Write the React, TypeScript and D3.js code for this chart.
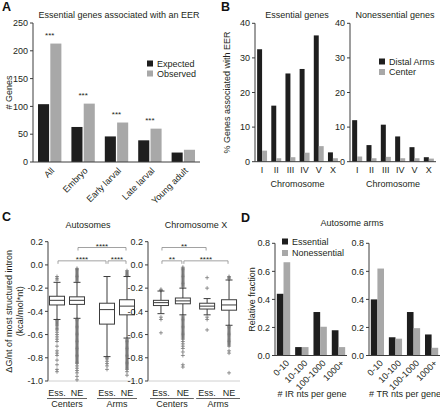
import * as d3 from "d3"

const FONT = "'Liberation Sans', Arial, Helvetica, sans-serif"
const INK = "#231f20"
const AXIS = "#3c3c3c"
const BLACK = "#1e1e1e"
const GREY = "#a8a8a8"

// A: essential genes associated with an EER, by lethal stage
const stages = ["All", "Embryo", "Early larval", "Late larval", "Young adult"]
const expectedGenes = [104, 63, 46, 39, 17]
const observedGenes = [213, 105, 71, 60, 22]
const stageStars = ["***", "***", "***", "***", ""]
const geneTicks = [0, 50, 100, 150, 200, 250]

// B: % genes associated with EER per chromosome
const chromosomes = ["I", "II", "III", "IV", "V", "X"]
const essentialArms = [32.5, 16.2, 25.5, 26.8, 36.5, 2.7]
const essentialCenter = [3.2, 1.0, 1.3, 2.6, 4.5, 1.0]
const nonessentialArms = [12.0, 4.8, 10.7, 7.3, 4.2, 1.3]
const nonessentialCenter = [1.5, 1.0, 1.4, 1.0, 1.0, 0.9]
const percentTicks = [0, 10, 20, 30, 40]

// C: ΔG/nt box plots, order = Centers Ess., Centers NE, Arms Ess., Arms NE
const regions = ["Centers", "Arms"]
const geneClasses = ["Ess.", "NE"]
const dgTicks = [0.2, 0.0, -0.2, -0.4, -0.6, -0.8, -1.0]

const autoHigh = [-0.15, -0.15, -0.1, -0.1]
const autoQ3 = [-0.27, -0.275, -0.33, -0.3]
const autoMedian = [-0.305, -0.305, -0.385, -0.355]
const autoQ1 = [-0.345, -0.34, -0.51, -0.43]
const autoLow = [-0.47, -0.46, -0.79, -0.63]
const autoOutliers = [
  [-0.1, -0.115, -0.13, -0.48, -0.49, -0.5, -0.51, -0.52, -0.535, -0.55, -0.56, -0.58, -0.6, -0.62, -0.64,
    -0.66, -0.7, -0.74, -0.76, -0.78, -0.82, -0.86, -0.9, -0.92],
  [-0.03, -0.04, -0.05, -0.06, -0.07, -0.08, -0.09, -0.1, -0.11, -0.12, -0.13, -0.14,
    -0.47, -0.48, -0.49, -0.5, -0.51, -0.52, -0.53, -0.54, -0.55, -0.56, -0.57, -0.58, -0.59, -0.6,
    -0.61, -0.62, -0.63, -0.64, -0.65, -0.66, -0.67, -0.68, -0.69, -0.7, -0.71, -0.72, -0.73, -0.74,
    -0.75, -0.76, -0.77, -0.78, -0.79, -0.8, -0.81, -0.82, -0.83, -0.84, -0.85, -0.87, -0.89, -0.91,
    -0.93, -0.96, -0.99],
  [-0.8, -0.81, -0.83, -0.85, -0.87, -0.9],
  [-0.05, -0.06, -0.07, -0.08, -0.09,
    -0.64, -0.65, -0.66, -0.67, -0.68, -0.69, -0.7, -0.71, -0.72, -0.73, -0.74, -0.75, -0.76, -0.77,
    -0.78, -0.79, -0.8, -0.81, -0.82, -0.83, -0.84, -0.85, -0.86, -0.87, -0.88, -0.89, -0.9, -0.92, -0.95],
]
const autoBrackets = [
  { from: 0, to: 2, tier: 0, label: "****" },
  { from: 2, to: 3, tier: 0, label: "****" },
  { from: 1, to: 3, tier: 1, label: "****" },
]

const xHigh = [-0.225, -0.2, -0.29, -0.13]
const xQ3 = [-0.305, -0.285, -0.33, -0.3]
const xMedian = [-0.325, -0.31, -0.355, -0.345]
const xQ1 = [-0.35, -0.335, -0.38, -0.39]
const xLow = [-0.42, -0.43, -0.43, -0.52]
const xOutliers = [
  [-0.21, -0.22, -0.45, -0.47, -0.585],
  [-0.02, -0.03, -0.04, -0.05, -0.06, -0.07, -0.08, -0.09, -0.1, -0.11, -0.12, -0.13, -0.14, -0.15,
    -0.16, -0.17, -0.18, -0.19,
    -0.44, -0.45, -0.46, -0.47, -0.48, -0.49, -0.5, -0.51, -0.52, -0.53, -0.54, -0.55, -0.56, -0.57,
    -0.58, -0.59, -0.6, -0.61, -0.62, -0.63, -0.64, -0.66, -0.68, -0.7, -0.72, -0.75, -0.78, -0.86, -0.88],
  [-0.11, -0.2, -0.45, -0.47, -0.56],
  [-0.1, -0.11, -0.12,
    -0.53, -0.54, -0.55, -0.56, -0.57, -0.58, -0.59, -0.6, -0.61, -0.62, -0.63, -0.64, -0.65, -0.66,
    -0.67, -0.68, -0.69, -0.7, -0.74, -0.76, -0.93],
]
const xBrackets = [
  { from: 0, to: 1, tier: 0, label: "**" },
  { from: 1, to: 3, tier: 0, label: "****" },
  { from: 0, to: 2, tier: 1, label: "**" },
]

// D: relative fraction of genes by repeat nts in autosome arms
const bins = ["0-10", "10-100", "100-1000", "1000+"]
const irEssential = [0.44, 0.06, 0.31, 0.18]
const irNonessential = [0.665, 0.06, 0.205, 0.06]
const trEssential = [0.4, 0.13, 0.31, 0.15]
const trNonessential = [0.62, 0.12, 0.195, 0.055]
const fractionTicks = [0, 0.2, 0.4, 0.6, 0.8]

type Lin = d3.ScaleLinear<number, number>

function YAxis({ x, y, ticks, fmt }: { x: number; y: Lin; ticks: number[]; fmt: (v: number) => string }) {
  const [lo, hi] = d3.extent(ticks) as [number, number]
  return (
    <g>
      <line x1={x} x2={x} y1={y(hi)} y2={y(lo)} stroke={AXIS} />
      {ticks.map((t) => (
        <g key={t}>
          <line x1={x - 3} x2={x} y1={y(t)} y2={y(t)} stroke={AXIS} />
          <text x={x - 5} y={y(t)} dy="0.35em" textAnchor="end" fontSize={9} fill={INK}>
            {fmt(t)}
          </text>
        </g>
      ))}
    </g>
  )
}

function GroupedBars({ cats, series, colors, x0, y, padding }: {
  cats: string[]; series: number[][]; colors: string[]
  x0: d3.ScaleBand<string>; y: Lin; padding: number
}) {
  const x1 = d3.scaleBand<number>().domain(series.map((_, i) => i)).range([0, x0.bandwidth()]).paddingInner(padding)
  return (
    <g>
      {cats.map((c, ci) =>
        series.map((s, si) => (
          <rect key={c + si} x={(x0(c) ?? 0) + (x1(si) ?? 0)} y={y(s[ci])} width={x1.bandwidth()}
            height={y(0) - y(s[ci])} fill={colors[si]} />
        ))
      )}
    </g>
  )
}

function Legend({ x, y, labels, colors, gap }: { x: number; y: number; labels: string[]; colors: string[]; gap: number }) {
  return (
    <g>
      {labels.map((l, i) => (
        <g key={l}>
          <rect x={x} y={y + i * gap - 3} width={6} height={6} fill={colors[i]} />
          <text x={x + 10} y={y + i * gap} dy="0.35em" fontSize={9} fill={INK}>{l}</text>
        </g>
      ))}
    </g>
  )
}

function BoxPanel({ axisX, x, y, high, q3, median, q1, low, outliers, brackets }: {
  axisX: number; x: d3.ScaleBand<string>; y: Lin
  high: number[]; q3: number[]; median: number[]; q1: number[]; low: number[]
  outliers: number[][]; brackets: { from: number; to: number; tier: number; label: string }[]
}) {
  const inner = d3.scaleBand<string>().domain(geneClasses).range([0, x.bandwidth()])
  const centers = regions.flatMap((r) => geneClasses.map((g) => (x(r) ?? 0) + (inner(g) ?? 0) + inner.bandwidth() / 2))
  const bw = 15
  const tierY = [y(0.035), y(0.15)]
  const right = (x.range()[1] as number)
  return (
    <g>
      <YAxis x={axisX} y={y} ticks={dgTicks} fmt={(v) => v.toFixed(1)} />
      <line x1={axisX} x2={right} y1={y(-1)} y2={y(-1)} stroke="#c4c4c4" strokeWidth={0.8} />
      {centers.map((cx, i) => (
        <g key={i}>
          {outliers[i].map((v, k) => (
            <path key={k} d={`M${cx - 2},${y(v)}h4M${cx},${y(v) - 2}v4`} stroke="#6a6a6a" strokeWidth={0.7} />
          ))}
          <line x1={cx} x2={cx} y1={y(high[i])} y2={y(q3[i])} stroke={AXIS} />
          <line x1={cx} x2={cx} y1={y(q1[i])} y2={y(low[i])} stroke={AXIS} />
          <line x1={cx - 3.5} x2={cx + 3.5} y1={y(high[i])} y2={y(high[i])} stroke={AXIS} />
          <line x1={cx - 3.5} x2={cx + 3.5} y1={y(low[i])} y2={y(low[i])} stroke={AXIS} />
          <rect x={cx - bw / 2} y={y(q3[i])} width={bw} height={y(q1[i]) - y(q3[i])} fill="#fff" stroke={AXIS} />
          <line x1={cx - bw / 2} x2={cx + bw / 2} y1={y(median[i])} y2={y(median[i])} stroke={AXIS} />
          <text x={cx} y={396} textAnchor="middle" fontSize={9} fill={INK}>{geneClasses[i % 2]}</text>
        </g>
      ))}
      {brackets.map((b, i) => {
        const by = tierY[b.tier]
        const x1 = centers[b.from] + 1
        const x2 = centers[b.to] - 1
        return (
          <g key={i}>
            <path d={`M${x1},${by + 3}V${by}H${x2}V${by + 3}`} fill="none" stroke="#8a8a8a" strokeWidth={0.8} />
            <text x={(x1 + x2) / 2} y={by + 1.5} textAnchor="middle" fontSize={8} fill={INK}>{b.label}</text>
          </g>
        )
      })}
      {regions.map((r) => {
        const rx = x(r) ?? 0
        return (
          <g key={r}>
            <line x1={rx} x2={rx + x.bandwidth()} y1={398.5} y2={398.5} stroke={AXIS} strokeWidth={0.8} />
            <text x={rx + x.bandwidth() / 2} y={406.5} textAnchor="middle" fontSize={9} fill={INK}>{r}</text>
          </g>
        )
      })}
    </g>
  )
}

export default function App() {
  // ---- A
  const yA = d3.scaleLinear().domain([0, 250]).range([162, 23])
  const xA = d3.scaleBand<string>().domain(stages).range([33, 200]).paddingInner(0.3).paddingOuter(0.15)

  // ---- B
  const yB = d3.scaleLinear().domain([0, 40]).range([161.7, 23.3])
  const xBL = d3.scaleBand<string>().domain(chromosomes).range([255, 340]).paddingInner(0.3).paddingOuter(0.15)
  const xBR = d3.scaleBand<string>().domain(chromosomes).range([350, 436]).paddingInner(0.3).paddingOuter(0.15)

  // ---- C
  const yC = d3.scaleLinear().domain([-1, 0.2]).range([381, 241.7])
  const xCL = d3.scaleBand<string>().domain(regions).range([47, 137]).paddingInner(0.2)
  const xCR = d3.scaleBand<string>().domain(regions).range([150, 240]).paddingInner(0.05)

  // ---- D
  const yD = d3.scaleLinear().domain([0, 0.8]).range([355.5, 243.3])
  const xDL = d3.scaleBand<string>().domain(bins).range([275, 347]).paddingInner(0.27).paddingOuter(0.1)
  const xDR = d3.scaleBand<string>().domain(bins).range([369, 440]).paddingInner(0.27).paddingOuter(0.1)

  const mid = (s: d3.ScaleBand<string>, c: string) => (s(c) ?? 0) + s.bandwidth() / 2

  return (
    <svg width={440} height={409} style={{ position: "absolute", left: 0, top: 0, background: "#fff" }}
      fontFamily={FONT}>
      {/* panel letters */}
      {[["A", 2, 10.5], ["B", 221, 10.5], ["C", 2, 220.5], ["D", 241, 221.5]].map(([l, x, y]) => (
        <text key={l as string} x={x as number} y={y as number} fontSize={12.5} fontWeight="bold" fill="#111">{l}</text>
      ))}

      {/* ---------- A ---------- */}
      <text x={119} y={18} textAnchor="middle" fontSize={9} fill={INK}>Essential genes associated with an EER</text>
      <YAxis x={33} y={yA} ticks={geneTicks} fmt={(v) => String(v)} />
      <text transform={`translate(12,${yA(125)}) rotate(-90)`} textAnchor="middle" fontSize={9} fill={INK}># Genes</text>
      <GroupedBars cats={stages} series={[expectedGenes, observedGenes]} colors={[BLACK, GREY]} x0={xA} y={yA} padding={0.1} />
      <line x1={33} x2={200} y1={yA(0)} y2={yA(0)} stroke={AXIS} />
      {stages.map((s, i) => (
        <g key={s}>
          <text x={mid(xA, s)} y={yA(Math.max(expectedGenes[i], observedGenes[i])) - 6} textAnchor="middle"
            fontSize={8} fill={INK}>{stageStars[i]}</text>
          <text transform={`translate(${mid(xA, s) + 3},${yA(0) + 7}) rotate(-45)`} textAnchor="end" dy="0.35em"
            fontSize={9} fill={INK}>{s}</text>
        </g>
      ))}
      <Legend x={147} y={63.5} labels={["Expected", "Observed"]} colors={[BLACK, GREY]} gap={10} />

      {/* ---------- B ---------- */}
      <text x={297} y={18} textAnchor="middle" fontSize={9} fill={INK}>Essential genes</text>
      <text x={395} y={18} textAnchor="middle" fontSize={9} fill={INK}>Nonessential genes</text>
      <YAxis x={255} y={yB} ticks={percentTicks} fmt={(v) => String(v)} />
      <YAxis x={350} y={yB} ticks={percentTicks} fmt={(v) => String(v)} />
      <text transform={`translate(230,${yB(20)}) rotate(-90)`} textAnchor="middle" fontSize={9} fill={INK}>
        % Genes associated with EER
      </text>
      <GroupedBars cats={chromosomes} series={[essentialArms, essentialCenter]} colors={[BLACK, GREY]} x0={xBL} y={yB} padding={0} />
      <GroupedBars cats={chromosomes} series={[nonessentialArms, nonessentialCenter]} colors={[BLACK, GREY]} x0={xBR} y={yB} padding={0} />
      <line x1={255} x2={340} y1={yB(0)} y2={yB(0)} stroke={AXIS} />
      <line x1={350} x2={436} y1={yB(0)} y2={yB(0)} stroke={AXIS} />
      {[xBL, xBR].map((sc, k) => (
        <g key={k}>
          {chromosomes.map((c) => (
            <text key={c} x={mid(sc, c)} y={173} textAnchor="middle" fontSize={9} fill={INK}>{c}</text>
          ))}
          <text x={(sc.range()[0] + sc.range()[1]) / 2} y={186.5} textAnchor="middle" fontSize={9} fill={INK}>Chromosome</text>
        </g>
      ))}
      <Legend x={379} y={61.5} labels={["Distal Arms", "Center"]} colors={[BLACK, GREY]} gap={10.5} />

      {/* ---------- C ---------- */}
      <text x={88} y={228} textAnchor="middle" fontSize={9} fill={INK}>Autosomes</text>
      <text x={196} y={228} textAnchor="middle" fontSize={9} fill={INK}>Chromosome X</text>
      <text transform={`translate(12,${yC(-0.4)}) rotate(-90)`} textAnchor="middle" fontSize={9} fill={INK}>
        ΔG/nt of most structured intron
      </text>
      <text transform={`translate(23,${yC(-0.4)}) rotate(-90)`} textAnchor="middle" fontSize={9} fill={INK}>
        (kcal/mol*nt)
      </text>
      <BoxPanel axisX={48} x={xCL} y={yC} high={autoHigh} q3={autoQ3} median={autoMedian} q1={autoQ1}
        low={autoLow} outliers={autoOutliers} brackets={autoBrackets} />
      <BoxPanel axisX={148} x={xCR} y={yC} high={xHigh} q3={xQ3} median={xMedian} q1={xQ1}
        low={xLow} outliers={xOutliers} brackets={xBrackets} />

      {/* ---------- D ---------- */}
      <text x={352} y={226} textAnchor="middle" fontSize={9} fill={INK}>Autosome arms</text>
      <YAxis x={275} y={yD} ticks={fractionTicks} fmt={(v) => v.toFixed(1)} />
      <YAxis x={369} y={yD} ticks={fractionTicks} fmt={(v) => v.toFixed(1)} />
      <text transform={`translate(255,${yD(0.4)}) rotate(-90)`} textAnchor="middle" fontSize={9} fill={INK}>
        Relative fraction
      </text>
      <GroupedBars cats={bins} series={[irEssential, irNonessential]} colors={[BLACK, GREY]} x0={xDL} y={yD} padding={0} />
      <GroupedBars cats={bins} series={[trEssential, trNonessential]} colors={[BLACK, GREY]} x0={xDR} y={yD} padding={0} />
      <line x1={275} x2={347} y1={yD(0)} y2={yD(0)} stroke={AXIS} />
      <line x1={369} x2={440} y1={yD(0)} y2={yD(0)} stroke={AXIS} />
      {[xDL, xDR].map((sc, k) => (
        <g key={k}>
          {bins.map((b) => (
            <text key={b} transform={`translate(${mid(sc, b) + 4},${yD(0) + 6}) rotate(-45)`} textAnchor="end"
              dy="0.35em" fontSize={9} fill={INK}>{b}</text>
          ))}
        </g>
      ))}
      <text x={312} y={397} textAnchor="middle" fontSize={9} fill={INK}># IR nts per gene</text>
      <text x={405} y={397} textAnchor="middle" fontSize={9} fill={INK}># TR nts per gene</text>
      <Legend x={282} y={241.5} labels={["Essential", "Nonessential"]} colors={[BLACK, GREY]} gap={11.5} />
    </svg>
  )
}
